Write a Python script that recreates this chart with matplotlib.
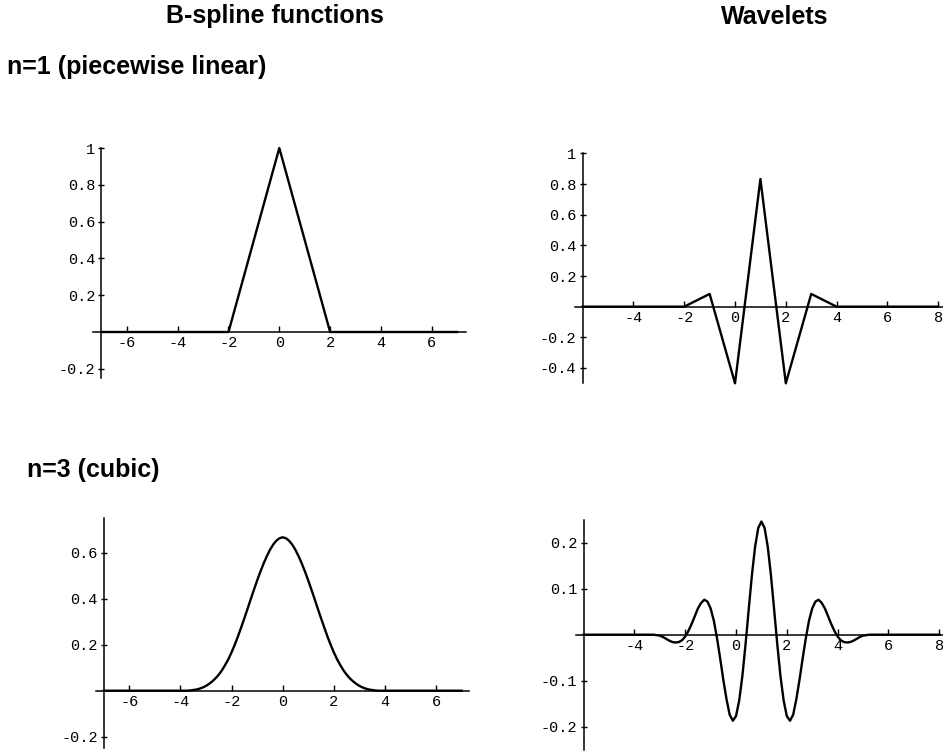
import numpy as np
import matplotlib
matplotlib.use("Agg")
import matplotlib.pyplot as plt

W, H = 943, 751

# n=1, piecewise linear
lin_x = [-7, -2, 0, 2, 7]
lin_y = [0, 0, 1, 0, 0]
lin_wav_x = [-6, -2, -1, 0, 1, 2, 3, 4, 8]
lin_wav_y = [0, 0, 0.083, -0.5, 0.833, -0.5, 0.083, 0, 0]

# n=3, cubic -- half curves read from the centre outwards (symmetric)
cub_step = 0.125    # centre at x=0
cub_half = [0.667, 0.663, 0.652, 0.635, 0.612, 0.584, 0.552, 0.517, 0.479,
            0.439, 0.398, 0.356, 0.315, 0.275, 0.236, 0.200, 0.167, 0.137,
            0.112, 0.089, 0.070, 0.054, 0.041, 0.030, 0.021, 0.014, 0.009,
            0.005, 0.003, 0.001, 0.0, 0.0, 0.0]
cub_wav_step = 0.125  # centre at x=1
cub_wav_half = [0.246, 0.232, 0.191, 0.129, 0.055, -0.021, -0.090, -0.143,
                -0.177, -0.187, -0.174, -0.140, -0.098, -0.051, -0.007, 0.031,
                0.057, 0.072, 0.076, 0.069, 0.057, 0.040, 0.023, 0.008,
                -0.004, -0.012, -0.016, -0.017, -0.016, -0.013, -0.009,
                -0.005, -0.002, -0.001, 0.0]


def mirror(half, step, centre, lo, hi):
    n = len(half)
    xs = centre + np.arange(-(n - 1), n) * step
    ys = half[:0:-1] + half
    return [lo] + list(xs) + [hi], [0.0] + ys + [0.0]


cub_x, cub_y = mirror(cub_half, cub_step, 0, -7, 7)
cub_wav_x, cub_wav_y = mirror(cub_wav_half, cub_wav_step, 1, -6, 8)

fig = plt.figure(figsize=(W / 100, H / 100), dpi=100, facecolor='w')


def panel(box, xlim, ylim, yaxis_at, X, Y, xticks, yticks, ylabels):
    l, r, t, b = box
    ax = fig.add_axes([l / W, 1 - b / H, (r - l) / W, (b - t) / H])
    ax.patch.set_visible(False)
    ax.plot(X, Y, color='black', linewidth=1.7, solid_joinstyle='round',
            clip_on=False, zorder=3)
    ax.set_xlim(*xlim)
    ax.set_ylim(*ylim)
    ax.spines['top'].set_visible(False)
    ax.spines['right'].set_visible(False)
    ax.spines['bottom'].set_position(('data', 0))
    ax.spines['left'].set_position(('data', yaxis_at))
    ax.spines['bottom'].set_linewidth(1.1)
    ax.spines['left'].set_linewidth(1.1)
    ax.set_xticks(xticks)
    ax.set_xticklabels([str(v) for v in xticks])
    ax.set_yticks(yticks)
    ax.set_yticklabels(ylabels)
    ax.tick_params(axis='x', direction='in', length=4, width=1, pad=3,
                   labelsize=11, labelfontfamily='Liberation Mono')
    ax.tick_params(axis='y', direction='inout', length=5, width=1, pad=2,
                   labelsize=11, labelfontfamily='Liberation Mono')
    return ax


panel((92.6, 466, 148, 378), (-7.35, 7.35), (-0.25, 1.0), -7,
      lin_x, lin_y, [-6, -4, -2, 0, 2, 4, 6],
      [-0.2, 0.2, 0.4, 0.6, 0.8, 1], ['-0.2', '0.2', '0.4', '0.6', '0.8', '1'])
panel((575, 943.3, 153.4, 383.3), (-6.3, 8.2), (-0.5, 1.0), -6,
      lin_wav_x, lin_wav_y, [-4, -2, 0, 2, 4, 6, 8],
      [-0.4, -0.2, 0.2, 0.4, 0.6, 0.8, 1],
      ['-0.4', '-0.2', '0.2', '0.4', '0.6', '0.8', '1'])
panel((96.1, 469.3, 518.2, 748.2), (-7.3, 7.3), (-0.25, 0.75), -7,
      cub_x, cub_y, [-6, -4, -2, 0, 2, 4, 6],
      [-0.2, 0.2, 0.4, 0.6], ['-0.2', '0.2', '0.4', '0.6'])
panel((576, 944.3, 519.7, 749.7), (-6.3, 8.2), (-0.25, 0.25), -6,
      cub_wav_x, cub_wav_y, [-4, -2, 0, 2, 4, 6, 8],
      [-0.2, -0.1, 0.1, 0.2], ['-0.2', '-0.1', '0.1', '0.2'])

head = dict(fontsize=18, fontweight='bold', family='Liberation Sans',
            va='baseline')
fig.text(275 / W, 1 - 23 / H, 'B-spline functions', ha='center', **head)
fig.text(775 / W, 1 - 24 / H, 'Wavelets', ha='center', **head)
fig.text(7 / W, 1 - 74 / H, 'n=1 (piecewise linear)', ha='left', **head)
fig.text(27 / W, 1 - 477 / H, 'n=3 (cubic)', ha='left', **head)

fig.savefig('out.png', dpi=100, facecolor='w')
